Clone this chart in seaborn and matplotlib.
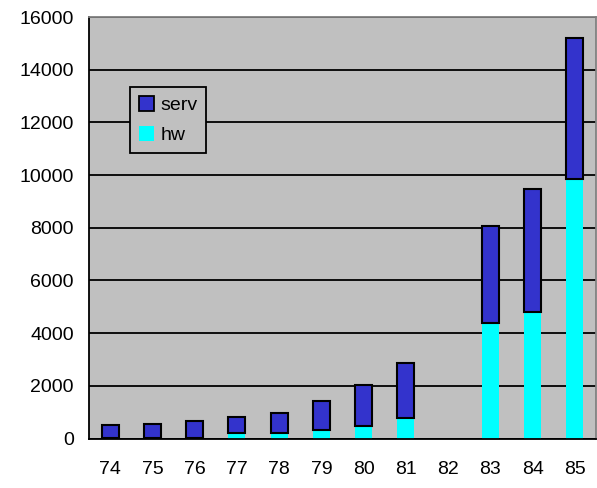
import numpy as np
import pandas as pd
import matplotlib
matplotlib.use("Agg")
import matplotlib.pyplot as plt
from matplotlib.patches import Patch
import seaborn as sns

years = ["74", "75", "76", "77", "78", "79", "80", "81", "82", "83", "84", "85"]
hw = [10, 10, 15, 200, 200, 320, 470, 790, np.nan, 4370, 4810, 9840]
serv = [490, 560, 635, 600, 770, 1090, 1550, 2060, np.nan, 3710, 4650, 5360]

SERV_COLOR = "#3333CC"
HW_COLOR = "#00FFFF"
BG = "#C0C0C0"

sns.set_style("white")
plt.rcParams["font.family"] = ["Liberation Sans", "DejaVu Sans"]
plt.rcParams["text.color"] = "black"
plt.rcParams["xtick.color"] = "black"
plt.rcParams["ytick.color"] = "black"

df = pd.DataFrame({"year": years, "hw": hw, "serv": serv})

fig = plt.figure(figsize=(5.97, 4.88), dpi=100)
ax = fig.add_axes([0.1491, 0.1014, 0.8492, 0.8636])
ax.set_facecolor(BG)

# horizontal grid first so bars sit on top
ax.set_axisbelow(True)
ax.yaxis.grid(True, color="black", linewidth=1.3)

sns.barplot(data=df, x="year", y="hw", order=years, color=HW_COLOR,
            width=0.4, linewidth=0, saturation=1, ax=ax)
n_hw = len(ax.patches)
sns.barplot(data=df, x="year", y="serv", order=years, color=SERV_COLOR,
            width=0.4, edgecolor="black", linewidth=1.5, saturation=1, ax=ax)

# stack serv on top of hw
for p in ax.patches[n_hw:]:
    idx = int(round(p.get_x() + p.get_width() / 2))
    base = hw[idx]
    if not np.isnan(base):
        p.set_y(base)

ax.set_ylim(0, 16000)
ax.set_xlim(-0.5, len(years) - 0.5)
ax.set_yticks(np.arange(0, 16001, 2000))
ax.set_yticklabels([str(v) for v in range(0, 16001, 2000)], fontsize=14, color="black")

# ticks between categories, labels at centres
ax.set_xticks(np.arange(-0.5, len(years)), labels=[""] * (len(years) + 1))
ax.set_xticks(np.arange(len(years)), labels=years, minor=True, fontsize=14, color="black")
ax.tick_params(axis="x", which="major", length=4.5, width=1.3, color="black", direction="out")
ax.tick_params(axis="x", which="minor", length=0, pad=16, labelcolor="black")
ax.tick_params(axis="y", length=4, width=1.3, color="black", direction="out", pad=7,
               labelcolor="black")

ax.set_xlabel("")
ax.set_ylabel("")

for s in ["left", "bottom"]:
    ax.spines[s].set_color("black")
    ax.spines[s].set_linewidth(1.3)
for s in ["top", "right"]:
    ax.spines[s].set_color("#808080")
    ax.spines[s].set_linewidth(1.3)

handles = [
    Patch(facecolor=SERV_COLOR, edgecolor="black", linewidth=1.3, label="serv"),
    Patch(facecolor=HW_COLOR, edgecolor="none", label="hw"),
]
leg = ax.legend(handles=handles, loc="upper left", bbox_to_anchor=(0.081, 0.834),
                fontsize=14, frameon=True, fancybox=False, handlelength=0.8,
                handleheight=0.8, handletextpad=0.3, borderpad=0.45,
                labelspacing=0.6, borderaxespad=0, labelcolor="black")
leg.get_frame().set_edgecolor("black")
leg.get_frame().set_facecolor(BG)
leg.get_frame().set_linewidth(1.3)
leg.get_frame().set_alpha(1)

fig.savefig("out.png", dpi=100)
